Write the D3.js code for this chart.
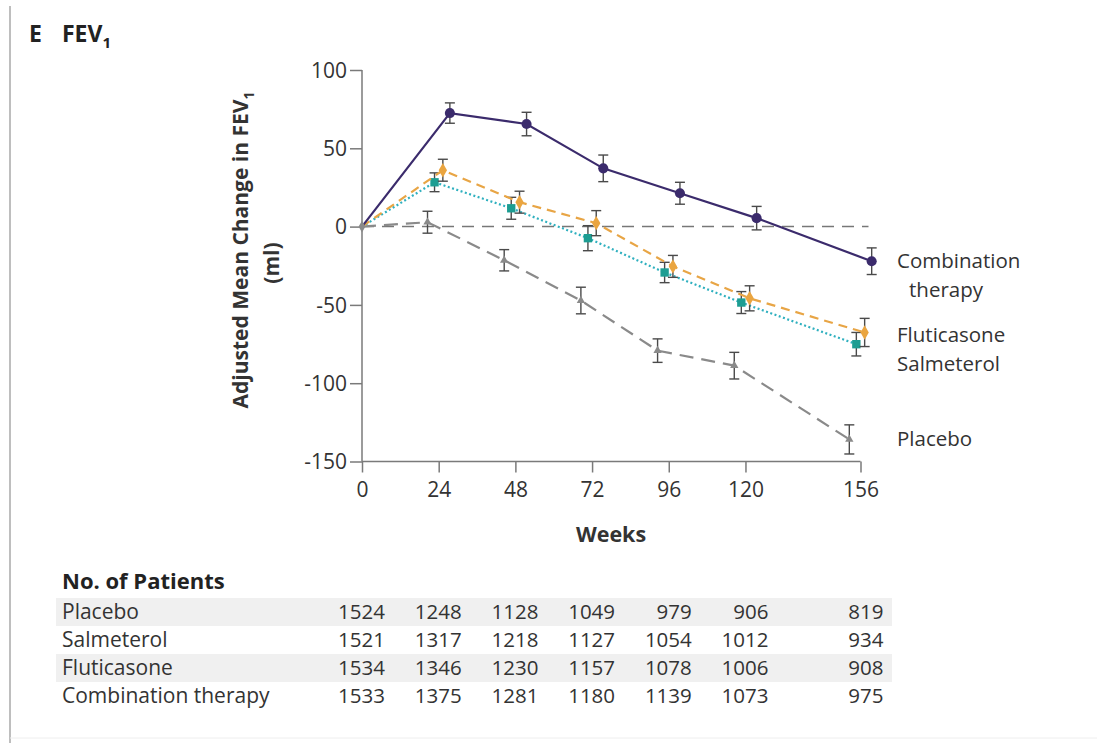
<!DOCTYPE html>
<html>
<head>
<meta charset="utf-8">
<script src="https://cdn.jsdelivr.net/npm/d3@7"></script>
<style>
  html, body { margin: 0; padding: 0; background: #fff; }
  svg { display: block; font-family: "Open Sans", "Noto Sans", sans-serif; }
</style>
</head>
<body>
<svg id="chart" width="1097" height="743"></svg>
<script>
// ---------- data ----------
const weeks = [0, 24, 48, 72, 96, 120, 156];
const yTicks = [100, 50, 0, -50, -100, -150];
const seriesNames = ["Combination therapy", "Fluticasone", "Salmeterol", "Placebo"];
const seriesOffsets = [3.5, 1.3, -1.3, -3.5]; // horizontal dodge in weeks
const combination    = [0, 72.5, 65.5, 37.2, 21.3, 5.4, -22.1];
const combinationErr = [0, 6.5, 7.5, 8.5, 7.0, 7.5, 8.5];
const fluticasone    = [0, 36.0, 15.6, 2.2, -25.4, -45.8, -67.6];
const fluticasoneErr = [0, 7.0, 7.0, 8.0, 7.0, 8.0, 9.0];
const salmeterol     = [0, 28.3, 11.7, -7.4, -29.3, -48.5, -75.1];
const salmeterolErr  = [0, 6.0, 7.0, 8.0, 6.5, 7.0, 7.5];
const placebo        = [0, 2.8, -21.5, -47.2, -79.2, -88.8, -135.9];
const placeboErr     = [0, 7.0, 6.8, 8.5, 7.5, 8.5, 9.3];

const patientGroups = ["Placebo", "Salmeterol", "Fluticasone", "Combination therapy"];
const patientsPlacebo     = [1524, 1248, 1128, 1049, 979, 906, 819];
const patientsSalmeterol  = [1521, 1317, 1218, 1127, 1054, 1012, 934];
const patientsFluticasone = [1534, 1346, 1230, 1157, 1078, 1006, 908];
const patientsCombination = [1533, 1375, 1281, 1180, 1139, 1073, 975];

// ---------- styles ----------
const styles = [
  { color: "#3b2b6c", dash: null, marker: "circle", width: 2.2, label: ["Combination", "therapy"], labelY: [261, 290], labelX: [897, 909] },
  { color: "#e8a545", dash: "9,6", marker: "diamond", width: 2.2, label: ["Fluticasone"], labelY: [335], labelX: [897] },
  { color: "#2fb0bf", dash: "2,2.5", marker: "square", width: 2.2, label: ["Salmeterol"], labelY: [364], labelX: [897] },
  { color: "#8a8a8a", dash: "14,8", marker: "triangle", width: 2.2, label: ["Placebo"], labelY: [439], labelX: [897] }
];
const markerFill = ["#3b2b6c", "#eaa540", "#1d9d92", "#8a8a8a"];

const seriesVals = [combination, fluticasone, salmeterol, placebo];
const seriesErrs = [combinationErr, fluticasoneErr, salmeterolErr, placeboErr];

const svg = d3.select("#chart");
const textColor = "#333";

// frame lines
svg.append("line").attr("x1", 10).attr("x2", 10).attr("y1", 6).attr("y2", 743)
  .attr("stroke", "#a8a8a8").attr("stroke-width", 1.5);
svg.append("line").attr("x1", 10).attr("x2", 1097).attr("y1", 738).attr("y2", 738)
  .attr("stroke", "#eeeeee").attr("stroke-width", 1);

// title
const title = svg.append("text").attr("x", 29).attr("y", 42)
  .attr("font-size", 23).attr("font-weight", 700).attr("fill", "#222");
title.append("tspan").text("E");
title.append("tspan").attr("x", 62).text("FEV");
title.append("tspan").attr("font-size", 15).attr("dy", 6).text("1");

// scales
const x = d3.scaleLinear().domain([0, 156]).range([362, 860.5]);
const y = d3.scaleLinear().domain([-150, 100]).range([461.5, 70]);

// axes
const axisColor = "#7a7a7a";
const yAxis = svg.append("g").attr("transform", `translate(${x(0)},0)`)
  .call(d3.axisLeft(y).tickValues(yTicks).tickSize(12).tickPadding(3).tickFormat(d => d < 0 ? "-" + Math.abs(d) : d));
const xAxis = svg.append("g").attr("transform", `translate(0,${y(-150)})`)
  .call(d3.axisBottom(x).tickValues(weeks).tickSize(11).tickPadding(10));
[yAxis, xAxis].forEach(g => {
  g.select(".domain").attr("stroke", axisColor).attr("stroke-width", 1.5);
  g.selectAll(".tick line").attr("stroke", axisColor).attr("stroke-width", 1.5);
  g.selectAll(".tick text").attr("font-size", 21).attr("fill", textColor)
    .attr("font-family", "'Open Sans', sans-serif");
});
yAxis.select(".domain").attr("d", `M0,${y(100)}H0V${y(-150)}`);
yAxis.selectAll(".tick text").attr("dy", "0.34em");
xAxis.select(".domain").attr("d", `M${x(0)},0H${x(156)}`);

// axis titles
const yl = svg.append("text").attr("transform", `translate(248,250) rotate(-90)`)
  .attr("text-anchor", "middle").attr("font-size", 21).attr("font-weight", 700).attr("fill", textColor);
yl.append("tspan").text("Adjusted Mean Change in FEV");
yl.append("tspan").attr("font-size", 14).attr("dy", 6).text("1");
svg.append("text").attr("transform", `translate(272,263) rotate(-90)`)
  .attr("text-anchor", "middle").attr("font-size", 21).attr("font-weight", 700).attr("fill", textColor)
  .attr("dy", "0.35em").text("(ml)");
svg.append("text").attr("x", 611).attr("y", 542).attr("text-anchor", "middle")
  .attr("font-size", 21.5).attr("font-weight", 700).attr("fill", textColor).text("Weeks");

// zero reference line
svg.append("line").attr("x1", x(0)).attr("x2", x(158.5)).attr("y1", y(0)).attr("y2", y(0))
  .attr("stroke", "#777").attr("stroke-width", 1.5).attr("stroke-dasharray", "12,8");

// series (draw placebo first so combination on top)
const order = [3, 2, 1, 0];
order.forEach(i => {
  const vals = seriesVals[i], errs = seriesErrs[i], st = styles[i];
  const pts = weeks.map((w, j) => ({ w: j === 0 ? 0 : w + seriesOffsets[i], v: vals[j], e: errs[j] }));
  const g = svg.append("g");
  g.append("path").datum(pts)
    .attr("d", d3.line().x(d => x(d.w)).y(d => y(d.v)))
    .attr("fill", "none").attr("stroke", st.color).attr("stroke-width", st.width)
    .attr("stroke-dasharray", st.dash);
  const eb = g.selectAll(".eb").data(pts.slice(1)).join("g");
  eb.append("line").attr("x1", d => x(d.w)).attr("x2", d => x(d.w))
    .attr("y1", d => y(d.v + d.e)).attr("y2", d => y(d.v - d.e))
    .attr("stroke", "#4a4a4a").attr("stroke-width", 1.4);
  [1, -1].forEach(s => {
    eb.append("line").attr("x1", d => x(d.w) - 5).attr("x2", d => x(d.w) + 5)
      .attr("y1", d => y(d.v + s * d.e)).attr("y2", d => y(d.v + s * d.e))
      .attr("stroke", "#4a4a4a").attr("stroke-width", 1.4);
  });
  const symType = { circle: d3.symbolCircle, diamond: d3.symbolDiamond, square: d3.symbolSquare, triangle: d3.symbolTriangle }[st.marker];
  const symSize = { circle: 80, diamond: 60, square: 70, triangle: 30 }[st.marker];
  g.selectAll(".mk").data(pts.slice(1)).join("path")
    .attr("transform", d => `translate(${x(d.w)},${y(d.v)})`)
    .attr("d", d3.symbol().type(symType).size(symSize))
    .attr("fill", markerFill[i]);
  // labels
  st.label.forEach((t, k) => {
    svg.append("text").attr("x", st.labelX[k]).attr("y", st.labelY[k]).attr("dy", "0.35em")
      .attr("font-size", 20.5).attr("fill", textColor).text(t);
  });
});
// start point
svg.append("path").attr("transform", `translate(${x(0)},${y(0)})`)
  .attr("d", d3.symbol().type(d3.symbolDiamond).size(40)).attr("fill", "#8a8a8a");

// ---------- patient table ----------
const rowsData = [patientsPlacebo, patientsSalmeterol, patientsFluticasone, patientsCombination];
const rowY = d3.scalePoint().domain(patientGroups).range([612, 696]);
svg.append("text").attr("x", 62).attr("y", 581).attr("dy", "0.35em")
  .attr("font-size", 22).attr("font-weight", 700).attr("fill", "#222").text("No. of Patients");
patientGroups.forEach((gName, r) => {
  if (r % 2 === 0) {
    svg.append("rect").attr("x", 56).attr("y", rowY(gName) - 14).attr("width", 836).attr("height", 28)
      .attr("fill", "#f0f0f0");
  }
});
patientGroups.forEach((gName, r) => {
  svg.append("text").attr("x", 62).attr("y", rowY(gName)).attr("dy", "0.35em")
    .attr("font-size", 21).attr("fill", textColor).text(gName);
  rowsData[r].forEach((n, j) => {
    svg.append("text").attr("x", x(weeks[j]) + 23).attr("y", rowY(gName)).attr("dy", "0.35em")
      .attr("text-anchor", "end").attr("font-size", 20.5).attr("fill", textColor).text(n);
  });
});
</script>
</body>
</html>
